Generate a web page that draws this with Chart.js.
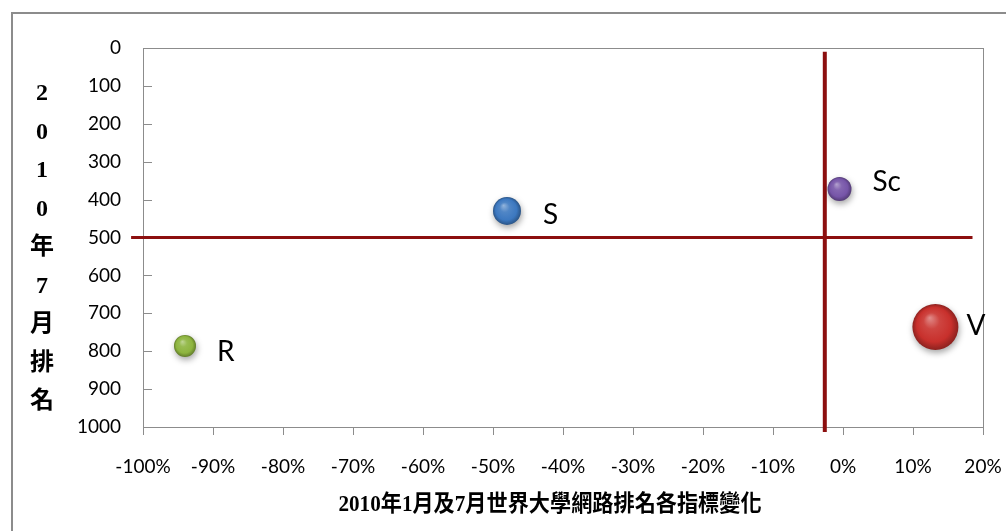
<!DOCTYPE html>
<html>
<head>
<meta charset="utf-8">
<script src="https://cdn.jsdelivr.net/npm/chart.js@4.4.1/dist/chart.umd.min.js"></script>
<style>
    body { margin: 0; background: #fff; width: 1006px; height: 531px; overflow: hidden; position: relative; }
    #frame { position: absolute; left: 11px; top: 12px; width: 1100px; height: 600px; border: 2px solid #8c8c8c; }
    #chart { position: absolute; left: 0; top: 0; }
    .title { position: absolute; font-weight: bold; font-family: "Liberation Serif", "Noto Sans CJK TC", serif; color: #000; }
    #ytitle { left: 29px; top: 73px; width: 26px; text-align: center; font-size: 24px; line-height: 38.5px; }
    #xtitle { left: 0; top: 489px; width: 1100px; text-align: center; font-size: 23px; line-height: 30px; transform: scaleX(0.92); transform-origin: 550px 0; }
</style>
</head>
<body>
<div id="frame"></div>
<canvas id="chart" width="1006" height="531"></canvas>
<div id="ytitle" class="title">2<br>0<br>1<br>0<br>年<br>7<br>月<br>排<br>名</div>
<div id="xtitle" class="title">2010年1月及7月世界大學網路排名各指標變化</div>
<script>
// 각 지표 데이터 (x: 변화율 %, y: 2010년 7월 순위)
const names = ["R", "S", "Sc", "V"];
const changePct = [-94, -48, -0.5, 13.2];
const rankJul = [786, 430, 372, 736];
const bubbleSize = [11, 14, 12, 23];

// 기준선 (가로: 순위 500, 세로: 변화율 약 -2.6%)
const hLineX = [-101.7, 18.5];
const hLineY = [500, 500];
const vLineX = [-2.6, -2.6];
const vLineY = [10, 1013];

// 스타일
const ballColors = ["#8DB43E", "#3C78C0", "#7655A8", "#C8302C"];
const labelDx = [32, 36, 33, 31];
const labelDy = [6, 4, -7, -1];
const lineColor = "#8C0F0F";
const axisColor = "#8c8c8c";

function shade(hex, amt) {
    const n = parseInt(hex.slice(1), 16);
    let r = (n >> 16) & 255, g = (n >> 8) & 255, b = n & 255;
    const f = v => Math.max(0, Math.min(255, Math.round(amt > 0 ? v + (255 - v) * amt : v * (1 + amt))));
    return `rgb(${f(r)},${f(g)},${f(b)})`;
}

function sphereFill(ctx) {
    const i = ctx.dataIndex;
    const chart = ctx.chart;
    if (i === undefined || !chart.chartArea) return ballColors[0];
    const base = ballColors[i];
    const cx = chart.scales.x.getPixelForValue(changePct[i]);
    const cy = chart.scales.y.getPixelForValue(rankJul[i]);
    const r = bubbleSize[i];
    const g = chart.ctx.createRadialGradient(cx - r * 0.25, cy - r * 0.4, 0, cx, cy, r);
    g.addColorStop(0, shade(base, 0.45));
    g.addColorStop(0.35, shade(base, 0.1));
    g.addColorStop(0.75, base);
    g.addColorStop(1, shade(base, -0.3));
    return g;
}

const plotFrame = {
    id: "plotFrame",
    beforeDatasetsDraw(chart) {
        const { ctx, chartArea: a } = chart;
        ctx.save();
        ctx.strokeStyle = axisColor;
        ctx.lineWidth = 1;
        ctx.strokeRect(a.left + 0.5, a.top + 0.5, a.right - a.left, a.bottom - a.top);
        // y축 눈금 (안쪽)
        const y = chart.scales.y;
        y.ticks.forEach(t => {
            const py = Math.round(y.getPixelForValue(t.value)) + 0.5;
            ctx.beginPath();
            ctx.moveTo(a.left, py);
            ctx.lineTo(a.left + 9, py);
            ctx.stroke();
        });
        ctx.restore();
    },
    beforeDatasetDraw(chart, args) {
        if (args.index !== 0) return;
        const ctx = chart.ctx;
        ctx.save();
        ctx.shadowColor = "rgba(0,0,0,0.35)";
        ctx.shadowBlur = 6;
        ctx.shadowOffsetX = 1;
        ctx.shadowOffsetY = 3;
    },
    afterDatasetDraw(chart, args) {
        if (args.index === 0) chart.ctx.restore();
    },
    afterDatasetsDraw(chart) {
        const { ctx } = chart;
        const meta = chart.getDatasetMeta(0);
        ctx.save();
        ctx.font = "28px Lato";
        ctx.fillStyle = "#000";
        ctx.textBaseline = "middle";
        meta.data.forEach((pt, i) => {
            ctx.fillText(names[i], pt.x + labelDx[i], pt.y + labelDy[i]);
        });
        ctx.restore();
    }
};

new Chart(document.getElementById("chart"), {
    type: "bubble",
    data: {
        datasets: [
            {
                label: "指標",
                data: names.map((n, i) => ({ x: changePct[i], y: rankJul[i], r: bubbleSize[i] })),
                backgroundColor: sphereFill,
                borderWidth: 0,
                order: 0
            },
            {
                type: "scatter",
                data: hLineX.map((x, i) => ({ x: x, y: hLineY[i] })),
                showLine: true,
                pointRadius: 0,
                borderColor: lineColor,
                borderWidth: 3,
                clip: false,
                order: 1
            },
            {
                type: "scatter",
                data: vLineX.map((x, i) => ({ x: x, y: vLineY[i] })),
                showLine: true,
                pointRadius: 0,
                borderColor: lineColor,
                borderWidth: 4,
                clip: false,
                order: 1
            }
        ]
    },
    options: {
        responsive: false,
        animation: false,
        events: [],
        layout: { autoPadding: false, padding: { left: 0, top: 48, right: 23, bottom: 0 } },
        plugins: { legend: { display: false }, tooltip: { enabled: false } },
        scales: {
            x: {
                type: "linear",
                min: -100,
                max: 20,
                afterFit: s => { s.height = 104; s.paddingLeft = 0; s.paddingRight = 0; },
                ticks: {
                    stepSize: 10,
                    padding: 20,
                    color: "#000",
                    font: { family: "Lato", size: 19 },
                    callback: v => v + "%"
                },
                grid: { drawOnChartArea: false, drawTicks: true, tickLength: 8, color: axisColor },
                border: { color: axisColor }
            },
            y: {
                type: "linear",
                reverse: true,
                min: 0,
                max: 1000,
                afterFit: s => { s.width = 143; },
                ticks: {
                    stepSize: 100,
                    padding: 22,
                    color: "#000",
                    font: { family: "Lato", size: 19 },
                    callback: v => String(v)
                },
                grid: { display: false, drawTicks: false },
                border: { color: axisColor }
            }
        }
    },
    plugins: [plotFrame]
});
</script>
</body>
</html>
